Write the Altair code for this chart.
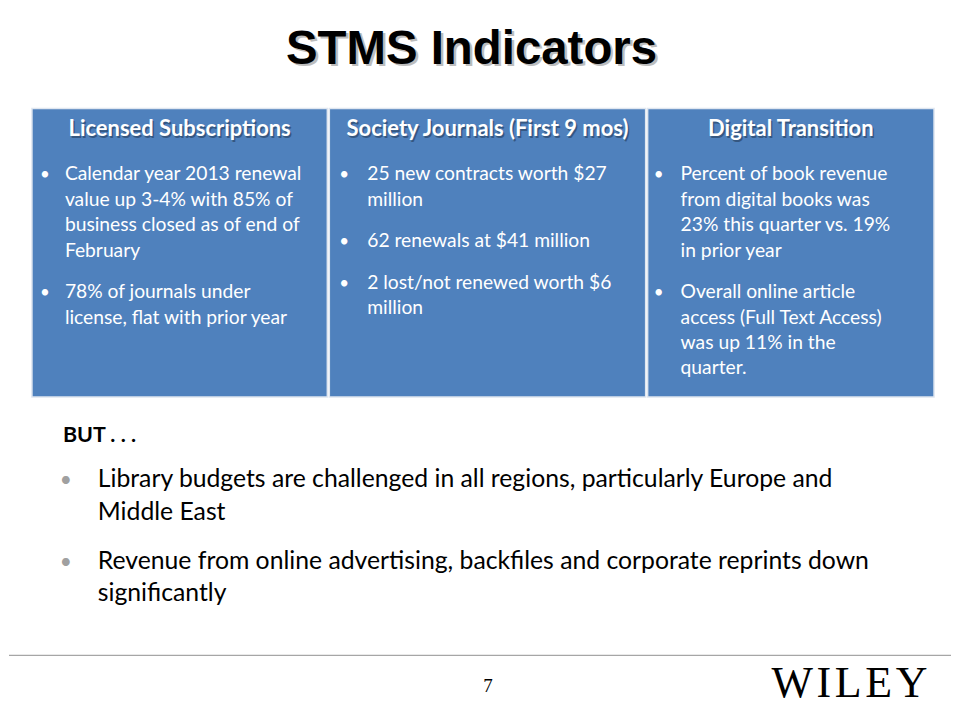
import altair as alt
import pandas as pd

# ---------------- content ----------------
TITLE = "STMS Indicators"
HEADERS = ["Licensed Subscriptions", "Society Journals (First 9 mos)", "Digital Transition"]
BOX_BULLETS = [
    [["Calendar year 2013 renewal", "value up 3-4% with 85% of", "business closed as of end of", "February"],
     ["78% of journals under", "license, flat with prior year"]],
    [["25 new contracts worth $27", "million"],
     ["62 renewals at $41 million"],
     ["2 lost/not renewed worth $6", "million"]],
    [["Percent of book revenue", "from digital books was", "23% this quarter vs. 19%", "in prior year"],
     ["Overall online article", "access (Full Text Access)", "was up 11%  in the", "quarter."]],
]
BUT_LABEL = "BUT . . ."
BOTTOM_BULLETS = [
    ["Library budgets are challenged in all regions, particularly Europe and", "Middle East"],
    ["Revenue from online advertising, backfiles and corporate reprints down", "significantly"],
]
PAGE_NUM = "7"
LOGO = "W\u200aI\u200aL\u200aE\u200aY"

# ---------------- layout (pixels of the 960x720 page) ----------------
BOX_LEFT = [31, 329, 648]
BOX_RIGHT = [327, 646, 935]
BOX_TOP, BOX_BOTTOM = 108, 397
BULLET_DX = [13, 15, 11]
TEXT_DX = [33, 38, 33]
BOX_BASE0, BOX_LH, BOX_PARA = 180, 25.5, 16
BOT_BASE0, BOT_LH, BOT_PARA = 487, 33, 16

SANS = "Lato"
BLUE = "#4F81BD"

xs = alt.Scale(domain=[8, 952], nice=False, zero=False)
ys = alt.Scale(domain=[8, 712], nice=False, zero=False, reverse=True)


def X(f="x"):
    return alt.X(f"{f}:Q", scale=xs, axis=None)


def Y(f="y"):
    return alt.Y(f"{f}:Q", scale=ys, axis=None)


# boxes
boxes = pd.DataFrame({"x": BOX_LEFT, "x2": BOX_RIGHT,
                      "y": [BOX_TOP] * 3, "y2": [BOX_BOTTOM] * 3})
box_layer = alt.Chart(boxes).mark_rect(color=BLUE, stroke="#dfe6f0", strokeWidth=1.5).encode(
    x=X(), x2="x2:Q", y=Y(), y2="y2:Q")

# headers
hdr = pd.DataFrame({"t": HEADERS,
                    "x": [(l + r) / 2 for l, r in zip(BOX_LEFT, BOX_RIGHT)],
                    "y": [136] * 3})
hdr_shadow = alt.Chart(hdr).transform_calculate(xs_="datum.x + 1.5", ys_="datum.y + 1.5").mark_text(
    font=SANS, fontWeight="bold", fontSize=22, color="#1d2f47", opacity=0.5,
    align="center", baseline="alphabetic").encode(x=X("xs_"), y=Y("ys_"), text="t:N")
hdr_text = alt.Chart(hdr).mark_text(
    font=SANS, fontWeight="bold", fontSize=22, color="white",
    align="center", baseline="alphabetic").encode(x=X(), y=Y(), text="t:N")

# box bullets
rows, dots = [], []
for b, paras in enumerate(BOX_BULLETS):
    idx = 0
    for p, lines in enumerate(paras):
        y0 = BOX_BASE0 + BOX_LH * idx + BOX_PARA * p
        dots.append({"x": BOX_LEFT[b] + BULLET_DX[b], "y": y0, "t": "•"})
        for ln in lines:
            rows.append({"x": BOX_LEFT[b] + TEXT_DX[b], "y": BOX_BASE0 + BOX_LH * idx + BOX_PARA * p, "t": ln})
            idx += 1
box_text = alt.Chart(pd.DataFrame(rows)).mark_text(
    font=SANS, fontSize=19.3, color="white", align="left", baseline="alphabetic").encode(
    x=X(), y=Y(), text="t:N")
box_dots = alt.Chart(pd.DataFrame(dots)).mark_text(
    font=SANS, fontSize=17, color="white", align="center", baseline="alphabetic").encode(
    x=X(), y=Y(), text="t:N")

# title
title_df = pd.DataFrame({"t": [TITLE], "x": [471.5], "y": [63]})
title_shadow = alt.Chart(title_df).transform_calculate(xs_="datum.x + 2.5", ys_="datum.y + 2.5").mark_text(
    font="Liberation Sans", fontWeight="bold", fontSize=47.5, color="#a8a8a8", opacity=0.75,
    align="center", baseline="alphabetic").encode(x=X("xs_"), y=Y("ys_"), text="t:N")
title_text = alt.Chart(title_df).mark_text(
    font="Liberation Sans", fontWeight="bold", fontSize=47.5, color="black",
    align="center", baseline="alphabetic").encode(x=X(), y=Y(), text="t:N")

# BUT
but_df = pd.DataFrame({"t": [BUT_LABEL], "x": [62], "y": [442]})
but_text = alt.Chart(but_df).mark_text(
    font=SANS, fontWeight="bold", fontSize=21.5, color="black", align="left",
    baseline="alphabetic").encode(x=X(), y=Y(), text="t:N")

brows, bdots = [], []
idx = 0
for p, lines in enumerate(BOTTOM_BULLETS):
    y0 = BOT_BASE0 + BOT_LH * idx + BOT_PARA * p
    bdots.append({"x": 65, "y": y0, "t": "•"})
    for ln in lines:
        brows.append({"x": 97, "y": BOT_BASE0 + BOT_LH * idx + BOT_PARA * p, "t": ln})
        idx += 1
bot_text = alt.Chart(pd.DataFrame(brows)).mark_text(
    font=SANS, fontSize=24.8, color="black", align="left", baseline="alphabetic").encode(
    x=X(), y=Y(), text="t:N")
bot_dots = alt.Chart(pd.DataFrame(bdots)).mark_text(
    font=SANS, fontSize=21, color="#a0a0a0", align="center", baseline="alphabetic").encode(
    x=X(), y=Y(), text="t:N")

# footer
rule_df = pd.DataFrame({"x": [8], "x2": [952], "y": [656]})
rule = alt.Chart(rule_df).mark_rule(color="#a6a6a6", strokeWidth=1.5).encode(
    x=X(), x2="x2:Q", y=Y())
page_df = pd.DataFrame({"t": [PAGE_NUM], "x": [488], "y": [693]})
page = alt.Chart(page_df).mark_text(
    font="Liberation Serif", fontSize=19, color="black", align="center",
    baseline="alphabetic").encode(x=X(), y=Y(), text="t:N")
logo_df = pd.DataFrame({"t": [LOGO], "x": [772], "y": [698]})
logo = alt.Chart(logo_df).mark_text(
    font="Liberation Serif", fontSize=44, color="black", align="left",
    baseline="alphabetic").encode(x=X(), y=Y(), text="t:N")

chart = alt.layer(
    box_layer, hdr_shadow, hdr_text, box_dots, box_text,
    title_shadow, title_text, but_text, bot_dots, bot_text,
    rule, page, logo,
).properties(width=944, height=704, padding=0, background="white").configure_view(stroke=None)

chart.save("out.html", embed_options={"renderer": "svg", "actions": False})
